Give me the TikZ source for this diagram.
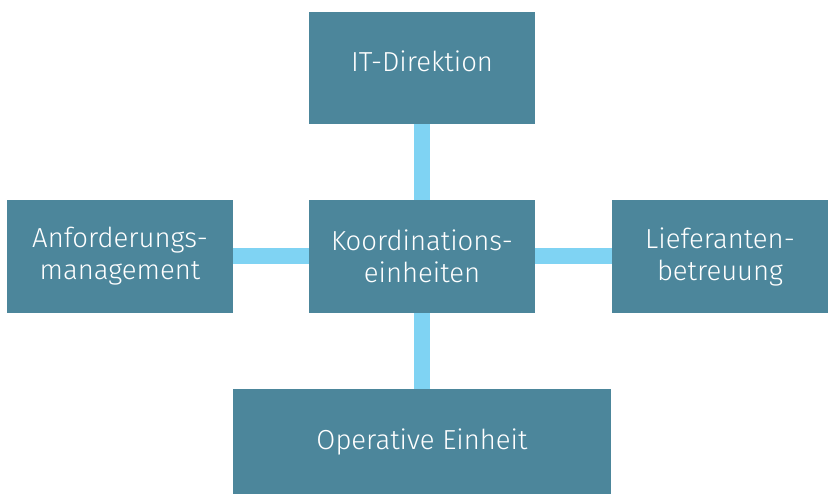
\documentclass[tikz,border=0pt]{standalone}
\usepackage{fontspec}
\setmainfont{Fira Sans Light}
\definecolor{boxteal}{HTML}{4C869B}
\definecolor{linkblue}{HTML}{7FD3F3}
\begin{document}
\begin{tikzpicture}[x=1pt,y=1pt]
      \useasboundingbox (0,0) rectangle (828,495);

      \begin{scope}[every node/.style={fill=boxteal, text=white, align=center, inner sep=0pt,
          font=\fontsize{27.5}{32}\selectfont}]
        \node[minimum width=226, minimum height=112] (itd)  at (422,427)  {\raisebox{-3.5pt}[0pt][0pt]{IT-Direktion}};
        \node[minimum width=226, minimum height=113] (koo)  at (422,238.5)  {Koordinations-\\einheiten};
        \node[minimum width=226, minimum height=113] (anf)  at (120,238.5)  {Anforderungs-\\management};
        \node[minimum width=216, minimum height=113] (lief) at (720,238.5)  {Lieferanten-\\betreuung};
        \node[minimum width=378, minimum height=105] (op)   at (422,53.5)  {Operative Einheit};
      \end{scope}

      \begin{scope}[every edge/.style={draw=linkblue, line width=16pt}]
        \path (itd) edge (koo);
        \path (koo) edge (op);
        \path (anf) edge (koo);
        \path (koo) edge (lief);
      \end{scope}

    \end{tikzpicture}
\end{document}
